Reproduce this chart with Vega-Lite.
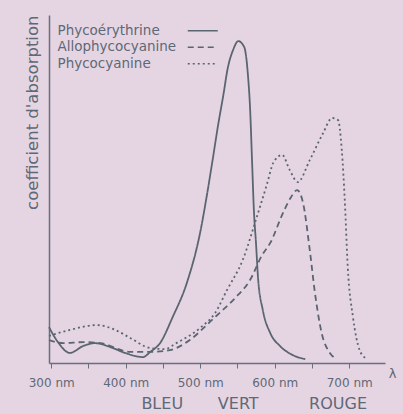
{
  "$schema": "https://vega.github.io/schema/vega-lite/v6.json",
  "width": 336,
  "height": 348,
  "autosize": "none",
  "padding": {"left": 49, "top": 15, "right": 18, "bottom": 51},
  "background": "#e5d5e3",
  "config": {"view": {"stroke": null}, "font": "DejaVu Sans"},
  "datasets": {
    "spectra": [
      {"pigment": "Phycoérythrine", "nm": 297, "abs": 10.3},
      {"pigment": "Phycoérythrine", "nm": 309, "abs": 6.0},
      {"pigment": "Phycoérythrine", "nm": 325, "abs": 2.9},
      {"pigment": "Phycoérythrine", "nm": 343, "abs": 4.9},
      {"pigment": "Phycoérythrine", "nm": 359, "abs": 5.7},
      {"pigment": "Phycoérythrine", "nm": 379, "abs": 4.6},
      {"pigment": "Phycoérythrine", "nm": 399, "abs": 2.9},
      {"pigment": "Phycoérythrine", "nm": 423, "abs": 1.7},
      {"pigment": "Phycoérythrine", "nm": 433, "abs": 3.2},
      {"pigment": "Phycoérythrine", "nm": 446, "abs": 5.7},
      {"pigment": "Phycoérythrine", "nm": 463, "abs": 13.2},
      {"pigment": "Phycoérythrine", "nm": 482, "abs": 23.0},
      {"pigment": "Phycoérythrine", "nm": 500, "abs": 37.6},
      {"pigment": "Phycoérythrine", "nm": 509, "abs": 48.3},
      {"pigment": "Phycoérythrine", "nm": 516, "abs": 57.5},
      {"pigment": "Phycoérythrine", "nm": 524, "abs": 68.4},
      {"pigment": "Phycoérythrine", "nm": 531, "abs": 77.0},
      {"pigment": "Phycoérythrine", "nm": 537, "abs": 84.8},
      {"pigment": "Phycoérythrine", "nm": 544, "abs": 89.9},
      {"pigment": "Phycoérythrine", "nm": 551, "abs": 92.5},
      {"pigment": "Phycoérythrine", "nm": 559, "abs": 90.8},
      {"pigment": "Phycoérythrine", "nm": 564, "abs": 82.8},
      {"pigment": "Phycoérythrine", "nm": 567, "abs": 72.7},
      {"pigment": "Phycoérythrine", "nm": 569.5, "abs": 58.3},
      {"pigment": "Phycoérythrine", "nm": 572, "abs": 44.0},
      {"pigment": "Phycoérythrine", "nm": 575, "abs": 33.9},
      {"pigment": "Phycoérythrine", "nm": 577.5, "abs": 24.7},
      {"pigment": "Phycoérythrine", "nm": 584, "abs": 15.2},
      {"pigment": "Phycoérythrine", "nm": 594, "abs": 8.6},
      {"pigment": "Phycoérythrine", "nm": 607, "abs": 4.9},
      {"pigment": "Phycoérythrine", "nm": 624, "abs": 2.3},
      {"pigment": "Phycoérythrine", "nm": 641, "abs": 1.1},
      {"pigment": "Allophycocyanine", "nm": 297, "abs": 6.6},
      {"pigment": "Allophycocyanine", "nm": 316, "abs": 5.7},
      {"pigment": "Allophycocyanine", "nm": 343, "abs": 6.0},
      {"pigment": "Allophycocyanine", "nm": 366, "abs": 5.7},
      {"pigment": "Allophycocyanine", "nm": 406, "abs": 3.2},
      {"pigment": "Allophycocyanine", "nm": 433, "abs": 3.2},
      {"pigment": "Allophycocyanine", "nm": 459, "abs": 3.7},
      {"pigment": "Allophycocyanine", "nm": 486, "abs": 6.6},
      {"pigment": "Allophycocyanine", "nm": 513, "abs": 11.8},
      {"pigment": "Allophycocyanine", "nm": 523, "abs": 13.8},
      {"pigment": "Allophycocyanine", "nm": 547, "abs": 18.7},
      {"pigment": "Allophycocyanine", "nm": 567, "abs": 23.9},
      {"pigment": "Allophycocyanine", "nm": 583, "abs": 31.0},
      {"pigment": "Allophycocyanine", "nm": 594, "abs": 34.5},
      {"pigment": "Allophycocyanine", "nm": 611, "abs": 43.1},
      {"pigment": "Allophycocyanine", "nm": 622, "abs": 47.7},
      {"pigment": "Allophycocyanine", "nm": 630, "abs": 49.7},
      {"pigment": "Allophycocyanine", "nm": 638, "abs": 46.0},
      {"pigment": "Allophycocyanine", "nm": 647, "abs": 32.5},
      {"pigment": "Allophycocyanine", "nm": 654, "abs": 20.1},
      {"pigment": "Allophycocyanine", "nm": 663, "abs": 8.6},
      {"pigment": "Allophycocyanine", "nm": 674, "abs": 2.9},
      {"pigment": "Allophycocyanine", "nm": 681, "abs": 1.4},
      {"pigment": "Phycocyanine", "nm": 297, "abs": 7.8},
      {"pigment": "Phycocyanine", "nm": 325, "abs": 9.5},
      {"pigment": "Phycocyanine", "nm": 361, "abs": 10.9},
      {"pigment": "Phycocyanine", "nm": 386, "abs": 9.5},
      {"pigment": "Phycocyanine", "nm": 406, "abs": 7.2},
      {"pigment": "Phycocyanine", "nm": 433, "abs": 4.3},
      {"pigment": "Phycocyanine", "nm": 453, "abs": 4.0},
      {"pigment": "Phycocyanine", "nm": 466, "abs": 5.5},
      {"pigment": "Phycocyanine", "nm": 500, "abs": 10.1},
      {"pigment": "Phycocyanine", "nm": 520, "abs": 14.4},
      {"pigment": "Phycocyanine", "nm": 536, "abs": 21.0},
      {"pigment": "Phycocyanine", "nm": 557, "abs": 29.6},
      {"pigment": "Phycocyanine", "nm": 576, "abs": 42.0},
      {"pigment": "Phycocyanine", "nm": 590, "abs": 51.7},
      {"pigment": "Phycocyanine", "nm": 598, "abs": 57.5},
      {"pigment": "Phycocyanine", "nm": 610, "abs": 59.8},
      {"pigment": "Phycocyanine", "nm": 620, "abs": 55.5},
      {"pigment": "Phycocyanine", "nm": 631, "abs": 52.0},
      {"pigment": "Phycocyanine", "nm": 647, "abs": 58.3},
      {"pigment": "Phycocyanine", "nm": 665, "abs": 66.1},
      {"pigment": "Phycocyanine", "nm": 677, "abs": 70.4},
      {"pigment": "Phycocyanine", "nm": 685, "abs": 69.8},
      {"pigment": "Phycocyanine", "nm": 690, "abs": 61.2},
      {"pigment": "Phycocyanine", "nm": 694, "abs": 46.8},
      {"pigment": "Phycocyanine", "nm": 698, "abs": 27.6},
      {"pigment": "Phycocyanine", "nm": 705, "abs": 13.2},
      {"pigment": "Phycocyanine", "nm": 714, "abs": 3.7},
      {"pigment": "Phycocyanine", "nm": 722, "abs": 1.4}
    ],
    "bands": [
      {"band": "BLEU", "nm": 449},
      {"band": "VERT", "nm": 551},
      {"band": "ROUGE", "nm": 685}
    ]
  },
  "layer": [
    {
      "data": {"name": "spectra"},
      "mark": {"type": "line", "interpolate": "monotone", "strokeWidth": 1.8, "color": "#5a6570"},
      "encoding": {
        "x": {
          "field": "nm", "type": "quantitative",
          "scale": {"domain": [297, 748], "nice": false, "zero": false},
          "axis": {
            "values": [300, 350, 400, 450, 500, 550, 600, 650, 700],
            "labelExpr": "datum.value % 100 === 0 ? datum.value + ' nm' : ''",
            "grid": false, "tickSize": 5, "tickColor": "#6a7078", "domainColor": "#6a7078", "domainWidth": 1.5,
            "labelPadding": 9, "labelFontSize": 12, "labelColor": "#5f6875",
            "title": "λ", "titleX": 343, "titleY": 10, "titleAlign": "center", "titleBaseline": "middle",
            "titleFontSize": 13, "titleFontWeight": "normal", "titleColor": "#5f6875"
          }
        },
        "y": {
          "field": "abs", "type": "quantitative",
          "scale": {"domain": [0, 100], "nice": false},
          "axis": {
            "ticks": false, "labels": false, "grid": false, "domainColor": "#6a7078", "domainWidth": 1.5,
            "title": "coefficient d'absorption", "titleX": -17, "titleY": 0, "titleAngle": -90,
            "titleAlign": "right", "titleBaseline": "middle", "titleFontSize": 16.5, "titleFontWeight": "normal",
            "titleColor": "#5f6875"
          }
        },
        "strokeDash": {
          "field": "pigment", "type": "nominal",
          "scale": {"domain": ["Phycoérythrine", "Allophycocyanine", "Phycocyanine"], "range": [[1, 0], [6, 4], [2, 3]]},
          "legend": {
            "orient": "none", "legendX": 147, "legendY": 9, "title": null, "padding": 0,
            "symbolType": "M-3,0H3", "symbolSize": 100, "symbolStrokeWidth": 1.5, "symbolStrokeColor": "#5a6570",
            "symbolOffset": 0, "labelOffset": -152, "labelFontSize": 13.5, "labelColor": "#5f6875",
            "labelLimit": 200, "rowPadding": 1.5
          }
        }
      }
    },
    {
      "data": {"name": "bands"},
      "mark": {"type": "text", "y": "height", "dy": 41, "fontSize": 16, "color": "#5f6875", "baseline": "middle"},
      "encoding": {
        "x": {"field": "nm", "type": "quantitative"},
        "text": {"field": "band"}
      }
    }
  ]
}
